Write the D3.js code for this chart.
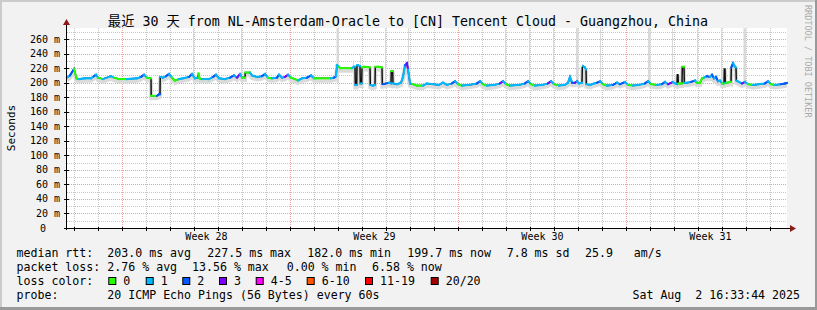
<!DOCTYPE html>
<html>
<head>
<meta charset="utf-8">
<script src="https://cdn.jsdelivr.net/npm/d3@7"></script>
<style>
  html, body { margin: 0; padding: 0; background: #fff; }
  svg text { font-family: "DejaVu Sans Mono", "Noto Sans CJK SC", monospace; white-space: pre; }
</style>
</head>
<body>
<script>
const titleText = "最近 30 天 from NL-Amsterdam-Oracle to [CN] Tencent Cloud - Guangzhou, China";
const yTicks = [0, 0.02, 0.04, 0.06, 0.08, 0.1, 0.12, 0.14, 0.16, 0.18, 0.2, 0.22, 0.24, 0.26];
const weekLabels = ["Week 28", "Week 29", "Week 30", "Week 31"];
const lossLabels = ["0", "1", "2", "3", "4-5", "6-10", "11-19", "20/20"];
const lossColors = ["#26ff00", "#00b8ff", "#0059ff", "#7e00ff", "#ff00ff", "#ff5500", "#ff0000", "#a10000"];
const rttStats = ["203.0 ms avg", "227.5 ms max", "182.0 ms min", "199.7 ms now", "7.8 ms sd", "25.9   am/s"];
const lossStats = ["2.76 % avg", "13.56 % max", "0.00 % min", "6.58 % now"];
const probeText = "20 ICMP Echo Pings (56 Bytes) every 60s";
const stampText = "Sat Aug  2 16:33:44 2025";

// [hours since start, median ms, loss class]
const medianPoints = [
  [0, 207, 1], [3, 210, 1], [7, 219, 2], [9.5, 206, 0], [12, 205, 0], [18, 206, 1], [24, 206, 1],
  [27, 209, 1], [29, 211, 2], [31, 207, 1], [36, 205, 0], [44, 209, 1], [47, 207, 1], [52, 205, 0],
  [60, 205, 0], [70, 206, 1], [74, 208, 1], [77, 211, 2], [80, 207, 1], [84, 206, 0], [84.2, 182, 0],
  [90, 182, 0], [92, 184, 2], [93, 184, 2], [93.2, 208, 1], [96, 207, 1], [99, 209, 1], [102, 212, 2],
  [105, 207, 1], [108, 203, 0], [112, 205, 0], [116, 206, 1], [122, 208, 1], [125, 212, 2], [128, 206, 1],
  [131, 207, 1], [131.5, 213, 0], [132.5, 206, 0], [135, 205, 0], [142, 205, 1], [146, 208, 1],
  [149, 211, 2], [152, 206, 1], [158, 205, 1], [163, 207, 1], [167, 210, 2], [170, 207, 1], [173, 212, 3],
  [175, 207, 1], [178, 207, 0], [178.3, 214, 0], [183, 214, 0], [185, 210, 1], [190, 208, 1],
  [195, 209, 1], [198, 212, 2], [201, 207, 1], [205, 206, 0], [210, 207, 1], [212, 211, 2], [215, 207, 1],
  [218, 208, 1], [221, 211, 3], [224, 207, 1], [228, 205, 0], [231, 203, 0], [235, 206, 1], [240, 207, 1],
  [244, 210, 2], [247, 206, 1], [249, 206, 0], [264, 206, 0], [267, 207, 1], [269, 209, 2],
  [270, 224, 1], [272, 222, 1], [273, 220, 0], [285, 220, 0], [287, 222, 1], [288, 222, 1],
  [288.3, 197, 1], [289.7, 197, 1], [290, 224, 1], [291, 224, 1], [293, 223, 1], [293.3, 199, 1],
  [294.7, 199, 1], [295, 221, 0], [297, 222, 0], [303, 221, 0], [303.3, 197, 1], [306, 196, 1],
  [308, 197, 1], [308.3, 222, 0], [311, 222, 0], [315, 221, 0], [315.3, 198, 1], [316, 198, 1],
  [322, 200, 2], [324, 199, 1], [324.3, 216, 0], [325.7, 216, 0], [326, 199, 1], [330, 198, 1],
  [334, 200, 1], [336, 208, 1], [338, 224, 1], [340, 227, 2], [341, 218, 3], [343, 199, 1],
  [346, 198, 1], [350, 196, 0], [356, 196, 0], [360, 199, 1], [366, 198, 1], [372, 197, 1],
  [376, 200, 1], [380, 197, 1], [385, 199, 1], [388, 202, 2], [391, 198, 1], [395, 196, 0],
  [402, 197, 1], [410, 199, 1], [413, 202, 2], [416, 198, 1], [420, 196, 0], [428, 197, 1],
  [433, 199, 1], [436, 202, 3], [439, 198, 1], [443, 196, 0], [452, 197, 1], [458, 199, 1],
  [461, 202, 2], [464, 198, 1], [468, 196, 0], [476, 197, 1], [481, 199, 1], [484, 202, 3],
  [487, 198, 1], [492, 196, 0], [498, 197, 1], [501, 200, 1], [503, 208, 1], [505, 200, 1],
  [508, 200, 2], [510, 202, 3], [512, 199, 1], [515, 200, 1], [515.3, 221, 0], [516, 223, 0],
  [518, 221, 1], [519, 218, 1], [519.3, 198, 1], [523, 197, 1], [527, 199, 1], [530, 200, 1],
  [533, 202, 2], [536, 198, 1], [540, 196, 0], [546, 197, 1], [550, 200, 2], [553, 198, 1],
  [558, 201, 2], [561, 197, 1], [566, 196, 0], [572, 197, 1], [578, 199, 1], [581, 202, 2],
  [584, 198, 1], [590, 197, 0], [595, 198, 1], [598, 201, 2], [601, 198, 1], [606, 201, 3],
  [608, 199, 1], [610, 198, 1], [610.3, 211, 0], [611, 211, 0], [611.3, 199, 1], [614, 199, 0],
  [615, 199, 0], [615.3, 222, 0], [617, 222, 0], [617.3, 200, 1], [620, 200, 1], [624, 201, 1],
  [628, 203, 2], [630, 200, 1], [633, 200, 0], [635, 206, 0], [637, 207, 0], [640, 209, 1],
  [643, 208, 2], [645, 211, 1], [647, 206, 2], [649, 208, 1], [651, 202, 2], [653, 203, 1],
  [655, 199, 1], [657, 199, 0], [657.3, 219, 0], [658, 219, 0], [658.3, 200, 1], [660, 200, 1],
  [663, 201, 0], [664, 201, 0], [664.3, 221, 1], [666, 227, 2], [668, 222, 1], [669, 221, 1],
  [669.3, 203, 1], [672, 201, 1], [675, 199, 1], [678, 201, 3], [681, 198, 1], [686, 197, 0],
  [692, 198, 1], [698, 199, 1], [701, 202, 2], [704, 198, 1], [708, 197, 0], [714, 198, 1],
  [718, 199, 2], [720, 199.7, 2]
];

// [hours since start, duration in hours, top of smoke column in ms]
const smokeSpikes = [
  [126, 1, 275], [174, 1, 275], [269.5, 2.5, 275], [286, 1, 231], [293, 1, 237], [318, 1, 275],
  [341, 1, 275], [438, 1, 275], [462, 1, 275], [486, 1, 275], [509, 2.5, 275], [533, 1, 275],
  [581, 2.5, 275], [605, 1, 275], [630, 1, 275], [654, 1, 275], [676.5, 2.5, 275]
];

const W = 817, H = 310;
const plot = { left: 67, right: 787, top: 28, bottom: 228 };
const startTime = Date.UTC(2025, 6, 3, 16, 33, 44);
const endTime = Date.UTC(2025, 7, 2, 16, 33, 44);
const hourMs = 3600 * 1000;

const svg = d3.select("body").append("svg").attr("width", W).attr("height", H);

// frame
svg.append("rect").attr("width", W).attr("height", H).attr("fill", "#f2f2f2");
svg.append("rect").attr("x", 0).attr("y", 0).attr("width", W).attr("height", 2).attr("fill", "#cbcbcb");
svg.append("rect").attr("x", 0).attr("y", 0).attr("width", 2).attr("height", H).attr("fill", "#cbcbcb");
svg.append("rect").attr("x", 0).attr("y", H - 3).attr("width", W).attr("height", 3).attr("fill", "#999");
svg.append("rect").attr("x", W - 2).attr("y", 0).attr("width", 2).attr("height", H).attr("fill", "#999");

const xScale = d3.scaleUtc().domain([new Date(startTime), new Date(endTime)]).range([plot.left, plot.right]);
const yScale = d3.scaleLinear().domain([0, 0.2753]).range([plot.bottom, plot.top]);
const hx = (h) => xScale(new Date(startTime + h * hourMs));
const msy = (ms) => yScale(ms / 1000);

svg.append("rect")
  .attr("x", plot.left).attr("y", plot.top)
  .attr("width", plot.right - plot.left).attr("height", plot.bottom - plot.top)
  .attr("fill", "#fff");

const grid = svg.append("g").attr("shape-rendering", "crispEdges");
const minorY = d3.range(1, 28, 2).map((d) => d / 100);
grid.selectAll(".hmin").data(minorY).enter().append("line")
  .attr("x1", plot.left).attr("x2", plot.right)
  .attr("y1", (d) => Math.round(yScale(d)) + 0.5).attr("y2", (d) => Math.round(yScale(d)) + 0.5)
  .attr("stroke", "#c8c8c8").attr("stroke-dasharray", "1,1");

const days = d3.utcDay.range(new Date(startTime), new Date(endTime)).filter((d) => d.getUTCDay() !== 0);
grid.selectAll(".vmin").data(days).enter().append("line")
  .attr("x1", (d) => Math.round(xScale(d)) + 0.5).attr("x2", (d) => Math.round(xScale(d)) + 0.5)
  .attr("y1", plot.top).attr("y2", plot.bottom)
  .attr("stroke", "#c8c8c8").attr("stroke-dasharray", "1,1");

grid.selectAll(".hmaj").data(yTicks.slice(1)).enter().append("line")
  .attr("x1", plot.left).attr("x2", plot.right)
  .attr("y1", (d) => Math.round(yScale(d)) + 0.5).attr("y2", (d) => Math.round(yScale(d)) + 0.5)
  .attr("stroke", "#e8a0a0").attr("stroke-dasharray", "1,1");

const weeks = d3.utcSunday.range(new Date(startTime), new Date(endTime));
grid.selectAll(".vmaj").data(weeks).enter().append("line")
  .attr("x1", (d) => Math.round(xScale(d)) + 0.5).attr("x2", (d) => Math.round(xScale(d)) + 0.5)
  .attr("y1", plot.top).attr("y2", plot.bottom)
  .attr("stroke", "#e8a0a0").attr("stroke-dasharray", "1,1");

// smoke
const smoke = svg.append("g");
smoke.selectAll("rect").data(smokeSpikes).enter().append("rect")
  .attr("x", (d) => hx(d[0]))
  .attr("width", (d) => hx(d[0] + d[1]) - hx(d[0]))
  .attr("y", (d) => msy(d[2]))
  .attr("height", (d) => Math.max(0, msy(200) - msy(d[2])))
  .attr("fill", "#d9d9d9");

const line = d3.line().x((d) => hx(d[0])).y((d) => msy(d[1]));
smoke.append("path").datum(medianPoints)
  .attr("d", line).attr("fill", "none")
  .attr("stroke", "#dadada").attr("stroke-width", 4)
  .attr("transform", "translate(0,2.5)");

// median line, black for jumps, coloured by loss for the rest
svg.append("path").datum(medianPoints)
  .attr("d", line).attr("fill", "none")
  .attr("stroke", "#111").attr("stroke-width", 1.5);

const segs = d3.pairs(medianPoints).filter((p) => p[1][0] - p[0][0] >= 0.9);
svg.append("g").selectAll("line").data(segs).enter().append("line")
  .attr("x1", (p) => hx(p[0][0])).attr("y1", (p) => msy(p[0][1]))
  .attr("x2", (p) => hx(p[1][0])).attr("y2", (p) => msy(p[1][1]))
  .attr("stroke", (p) => lossColors[p[1][2]])
  .attr("stroke-width", 2).attr("stroke-linecap", "square");

// axes
const axisG = svg.append("g");
axisG.append("line").attr("x1", plot.left - 0.5).attr("x2", plot.left - 0.5)
  .attr("y1", plot.bottom + 2).attr("y2", 22).attr("stroke", "#000");
axisG.append("line").attr("x1", plot.left - 3).attr("x2", 792)
  .attr("y1", plot.bottom + 0.5).attr("y2", plot.bottom + 0.5).attr("stroke", "#000");
axisG.append("path").attr("d", `M${plot.left - 4},25 L${plot.left - 0.5},19 L${plot.left + 3},25 Z`).attr("fill", "#8b1a1a");
axisG.append("path").attr("d", `M790,${plot.bottom - 3} L796,${plot.bottom + 0.5} L790,${plot.bottom + 4} Z`).attr("fill", "#8b1a1a");

axisG.selectAll(".ytick").data(yTicks).enter().append("line")
  .attr("x1", plot.left - 3).attr("x2", plot.left + 2)
  .attr("y1", (d) => Math.round(yScale(d)) + 0.5).attr("y2", (d) => Math.round(yScale(d)) + 0.5)
  .attr("stroke", "#000").attr("shape-rendering", "crispEdges");
axisG.selectAll(".xtick").data(days.concat(weeks)).enter().append("line")
  .attr("x1", (d) => Math.round(xScale(d)) + 0.5).attr("x2", (d) => Math.round(xScale(d)) + 0.5)
  .attr("y1", plot.bottom - 1).attr("y2", plot.bottom + 3)
  .attr("stroke", "#000").attr("shape-rendering", "crispEdges");

axisG.selectAll(".ylab").data(yTicks).enter().append("text")
  .attr("x", (d) => (d === 0 ? 46 : 60))
  .attr("y", (d) => yScale(d) + 3.5)
  .attr("text-anchor", "end")
  .style("font-size", "10px")
  .text((d) => (d === 0 ? "0" : `${Math.round(d * 1000)} m`));

axisG.selectAll(".xlab").data(weekLabels).enter().append("text")
  .attr("x", (d, i) => (xScale(weeks[i]) + xScale(d3.utcDay.offset(weeks[i], 7))) / 2)
  .attr("y", 240)
  .attr("text-anchor", "middle")
  .style("font-size", "10px")
  .text((d) => d);

svg.append("text")
  .attr("x", 408).attr("y", 26).attr("text-anchor", "middle")
  .style("font-size", "13.3px")
  .text(titleText);

svg.append("text")
  .attr("transform", "translate(15,128) rotate(-90)")
  .attr("text-anchor", "middle")
  .style("font-size", "11px")
  .text("Seconds");

svg.append("text")
  .attr("transform", "translate(805,5) rotate(90)")
  .attr("text-anchor", "start")
  .style("font-size", "8.5px").attr("fill", "#aaa")
  .text("RRDTOOL / TOBI OETIKER");

// legend
const legendFont = "11.6px";
const rowY = [257, 271, 285, 299];
const rttX = [107.3, 207.3, 307.3, 407.3, 506.7, 585];
const lossX = [107.3, 192, 286.7, 372];
const boxX = [108.3, 145.7, 182.3, 219, 255.7, 306.7, 365, 430.7];

const legend = svg.append("g").style("font-size", legendFont);
legend.append("text").attr("x", 16.5).attr("y", rowY[0]).text("median rtt:");
legend.selectAll(".rtt").data(rttStats).enter().append("text")
  .attr("x", (d, i) => rttX[i]).attr("y", rowY[0]).text((d) => d);
legend.append("text").attr("x", 16.5).attr("y", rowY[1]).text("packet loss:");
legend.selectAll(".pl").data(lossStats).enter().append("text")
  .attr("x", (d, i) => lossX[i]).attr("y", rowY[1]).text((d) => d);
legend.append("text").attr("x", 16.5).attr("y", rowY[2]).text("loss color:");
legend.selectAll(".box").data(lossLabels).enter().append("rect")
  .attr("x", (d, i) => boxX[i] + 0.5).attr("y", 277.5)
  .attr("width", 7).attr("height", 7)
  .attr("fill", (d, i) => lossColors[i]).attr("stroke", "#000");
legend.selectAll(".boxlab").data(lossLabels).enter().append("text")
  .attr("x", (d, i) => boxX[i] + 15).attr("y", rowY[2]).text((d) => d);
legend.append("text").attr("x", 16.5).attr("y", rowY[3]).text("probe:");
legend.append("text").attr("x", 107.3).attr("y", rowY[3]).text(probeText);
legend.append("text").attr("x", 800).attr("y", rowY[3]).attr("text-anchor", "end").text(stampText);
</script>
</body>
</html>
